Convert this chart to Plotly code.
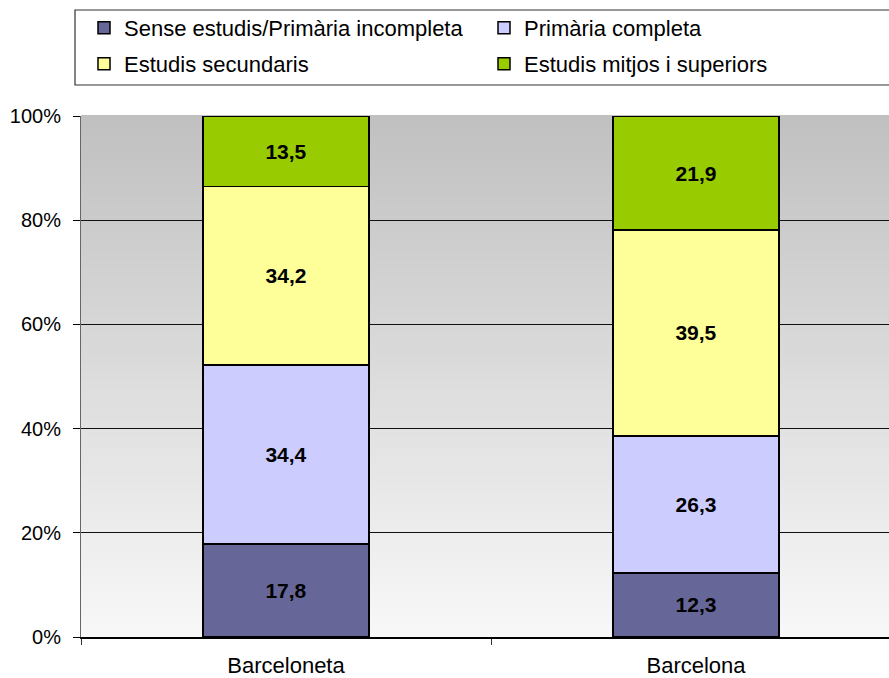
import plotly.graph_objects as go

categories = ["Barceloneta", "Barcelona"]
series_names = ["Sense estudis/Primària incompleta", "Primària completa",
                "Estudis secundaris", "Estudis mitjos i superiors"]
sense_estudis = [17.8, 12.3]
primaria = [34.4, 26.3]
secundaris = [34.2, 39.5]
superiors = [13.5, 21.9]
colors = ["#666699", "#CCCCFF", "#FFFF99", "#99CC00"]

series_values = [sense_estudis, primaria, secundaris, superiors]

PLOT_L, PLOT_T, PLOT_B, PLOT_W = 81, 116, 637, 808
PLOT_H = PLOT_B - PLOT_T


def px_x(x):
    return (x - PLOT_L) / PLOT_W


def px_y(y):
    return (PLOT_B - y) / PLOT_H


legend_ids = ["legend", "legend2", "legend3", "legend4"]
legend_pos = [(84, 28), (484, 28), (84, 64), (484, 64)]  # legend left / row centre (px)

fig = go.Figure()
for name, vals, col, lid in zip(series_names, series_values, colors, legend_ids):
    fig.add_trace(go.Bar(
        x=categories, y=vals, name=name, legend=lid,
        marker=dict(color=col, line=dict(color="black", width=1.5)),
        width=0.405,
        text=[f"{v:.1f}".replace(".", ",") for v in vals],
        textposition="inside", insidetextanchor="middle", textangle=0,
        textfont=dict(family="Liberation Sans", size=21, color="black", weight="bold"),
        constraintext="none",
        hoverinfo="skip",
    ))

# gradient background (style only)
shapes = []
n = 120
top_c, bot_c = 192, 248
for i in range(n):
    f0 = i / n
    f1 = (i + 1) / n
    c = int(round(bot_c + (top_c - bot_c) * (f0 + f1) / 2))
    shapes.append(dict(type="rect", xref="paper", yref="paper",
                       x0=0, x1=1, y0=f0, y1=f1 + 0.002,
                       fillcolor=f"rgb({c},{c},{c})", line=dict(width=0),
                       layer="below"))
# legend frame
shapes.append(dict(type="rect", xref="paper", yref="paper",
                   x0=px_x(75), x1=px_x(900), y0=px_y(85), y1=px_y(10),
                   fillcolor="rgba(0,0,0,0)", line=dict(color="#333333", width=1.2)))

legend_common = dict(
    orientation="h", xanchor="left", yanchor="middle",
    bgcolor="rgba(0,0,0,0)", borderwidth=0,
    font=dict(family="Liberation Sans", size=22, color="black"),
    itemwidth=30,
)
legends = {}
for lid, (lx, ly) in zip(legend_ids, legend_pos):
    legends[lid] = dict(legend_common, x=px_x(lx), y=px_y(ly))

fig.update_layout(
    width=889, height=678,
    margin=dict(l=PLOT_L, r=0, t=PLOT_T, b=678 - PLOT_B, autoexpand=False),
    barmode="stack", barnorm="percent",
    paper_bgcolor="white", plot_bgcolor="white",
    font=dict(family="Liberation Sans", size=20, color="black"),
    shapes=shapes,
    showlegend=True,
    xaxis=dict(
        type="category", range=[-0.5, 1.4707], automargin=False,
        tickson="boundaries", ticks="outside", ticklen=6, tickcolor="#333333",
        showline=True, linecolor="black", linewidth=1.5,
        showgrid=False, fixedrange=True,
        tickfont=dict(size=22), ticklabelstandoff=8,
    ),
    yaxis=dict(
        range=[0, 100], dtick=20, ticksuffix="%", automargin=False,
        ticks="outside", ticklen=7, tickcolor="black",
        showline=True, linecolor="#666666", linewidth=1,
        showgrid=True, gridcolor="#111111", gridwidth=1,
        zeroline=False, fixedrange=True,
        tickfont=dict(size=20), ticklabelstandoff=8,
    ),
    **legends,
)

fig.write_html("out.html", config={"displayModeBar": False},
               post_script="document.body.style.margin='0px';")
